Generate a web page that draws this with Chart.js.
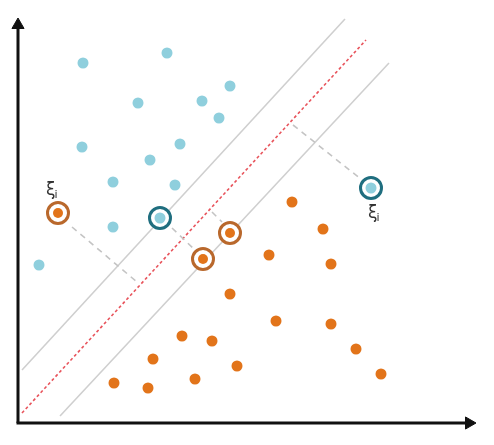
<!DOCTYPE html>
<html>
<head>
<meta charset="utf-8">
<script src="https://cdn.jsdelivr.net/npm/chart.js@4"></script>
<style>
html,body{margin:0;padding:0;background:#fff;}
#wrap{width:494px;height:445px;}
</style>
</head>
<body>
<div id="wrap"><canvas id="c" width="494" height="445"></canvas></div>
<script>
// Class A (light blue) points
const blueX = [65, 149, 120, 184, 212, 201, 64, 162, 132, 95, 157, 95, 21];
const blueY = [360, 370, 320, 322, 337, 305, 276, 279, 263, 241, 238, 196, 158];
// Class B (orange) points
const orangeX = [274, 305, 251, 313, 212, 258, 313, 164, 194, 338, 135, 219, 177, 363, 96, 130];
const orangeY = [221, 194, 168, 159, 129, 102, 99, 87, 82, 74, 64, 57, 44, 49, 40, 35];
// Circled (support / slack) points
const blueSvX = [142, 353];
const blueSvY = [205, 235];
const orangeSvX = [40, 185, 212];
const orangeSvY = [210, 164, 190];
// Hyperplane and margins (endpoints)
const hyperX = [4, 348];
const hyperY = [10, 383];
const upperMarginX = [4, 327];
const upperMarginY = [53, 404];
const lowerMarginX = [42, 371];
const lowerMarginY = [7, 360];
// Slack segments
const slackX = [[54, 119], [154, 177], [194, 204], [275, 344]];
const slackY = [[196, 141], [195, 173], [211, 201], [298, 243]];
// Axis extents
const xAxisEnd = 451;
const yAxisEnd = 398;
// Text labels
const labelText = ['ξ', 'ξ'];
const labelX = [28, 350];
const labelY = [228, 205];

const pts = (xs, ys) => xs.map((x, i) => ({x, y: ys[i]}));

const BLUE = '#8fcfdd';
const ORANGE = '#e2741a';
const BLUE_RING = '#1f6e7f';
const ORANGE_RING = '#b9682c';

const datasets = [];
// axes
datasets.push({type:'line', data: pts([0,0],[0,yAxisEnd]), borderColor:'#111', borderWidth:3, pointRadius:0, order:1});
datasets.push({type:'line', data: pts([-1.5,xAxisEnd],[0,0]), borderColor:'#111', borderWidth:3, pointRadius:0, order:1});
datasets.push({type:'scatter', data: pts([0],[yAxisEnd]), pointStyle:'triangle', rotation:0, pointRadius:7, backgroundColor:'#111', borderColor:'#111', borderWidth:1, order:1});
datasets.push({type:'scatter', data: pts([xAxisEnd],[0]), pointStyle:'triangle', rotation:90, pointRadius:7, backgroundColor:'#111', borderColor:'#111', borderWidth:1, order:1});
// margins and hyperplane
datasets.push({type:'line', data: pts(upperMarginX, upperMarginY), borderColor:'#cfcfcf', borderWidth:1.6, pointRadius:0, order:10});
datasets.push({type:'line', data: pts(lowerMarginX, lowerMarginY), borderColor:'#cfcfcf', borderWidth:1.6, pointRadius:0, order:10});
datasets.push({type:'line', data: pts(hyperX, hyperY), borderColor:'#e8545c', borderWidth:1.6, borderDash:[3,2.5], pointRadius:0, order:9});
// slack
slackX.forEach((xs, i) => {
  datasets.push({type:'line', data: pts(xs, slackY[i]), borderColor:'#c4c4c4', borderWidth:1.6, borderDash:[6,5], pointRadius:0, order:8});
});
// rings
datasets.push({type:'scatter', data: pts(blueSvX, blueSvY), pointRadius:10.5, borderWidth:3, borderColor:BLUE_RING, backgroundColor:'#fff', order:5});
datasets.push({type:'scatter', data: pts(orangeSvX, orangeSvY), pointRadius:10.5, borderWidth:3, borderColor:ORANGE_RING, backgroundColor:'#fff', order:5});
datasets.push({type:'scatter', data: pts(blueSvX, blueSvY), pointRadius:5.5, borderWidth:0, backgroundColor:BLUE, order:4});
datasets.push({type:'scatter', data: pts(orangeSvX, orangeSvY), pointRadius:5, borderWidth:0, backgroundColor:ORANGE, order:4});
// points
datasets.push({type:'scatter', data: pts(blueX, blueY), pointRadius:5.5, borderWidth:0, backgroundColor:BLUE, order:3});
datasets.push({type:'scatter', data: pts(orangeX, orangeY), pointRadius:5.5, borderWidth:0, backgroundColor:ORANGE, order:3});

const labelPlugin = {
  id: 'xiLabels',
  afterDatasetsDraw(chart) {
    const {ctx, scales} = chart;
    ctx.save();
    ctx.fillStyle = '#333';
    labelText.forEach((t, i) => {
      const px = scales.x.getPixelForValue(labelX[i]);
      const py = scales.y.getPixelForValue(labelY[i]);
      ctx.font = '17px "DejaVu Sans"';
      ctx.textBaseline = 'alphabetic';
      ctx.textAlign = 'left';
      ctx.fillText(t, px, py);
      const w = ctx.measureText(t).width;
      ctx.font = '11px "DejaVu Sans"';
      ctx.fillText('i', px + w - 1, py + 3);
    });
    ctx.restore();
  }
};

new Chart(document.getElementById('c'), {
  type: 'scatter',
  data: { datasets },
  options: {
    responsive: false,
    animation: false,
    layout: { padding: 0, autoPadding: false },
    plugins: { legend: {display:false}, tooltip: {enabled:false} },
    scales: {
      x: { type:'linear', min:-18, max:476, display:false },
      y: { type:'linear', min:-22, max:423, display:false }
    },
    elements: { line: { tension: 0, fill: false } }
  },
  plugins: [labelPlugin]
});
</script>
</body>
</html>
